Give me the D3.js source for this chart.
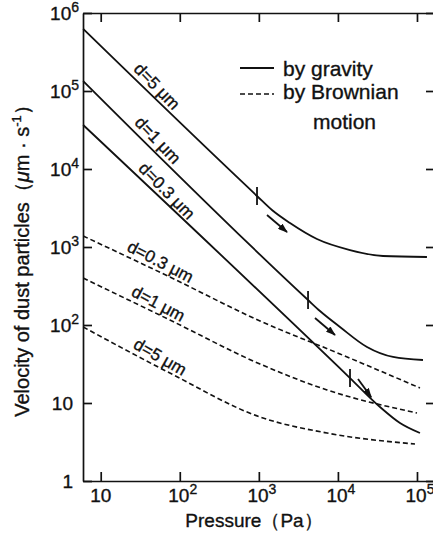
<!DOCTYPE html>
<meta charset="utf-8">
<style>
body { margin: 0; background: #fff; }
svg { font-family: "Liberation Sans", Arial, Helvetica, sans-serif; }
svg text { stroke: #111; stroke-width: 0.35px; }
.axis path, .axis line { stroke: #111; stroke-width: 1.7px; fill: none; }
.curve { fill: none; stroke: #111; stroke-width: 1.8px; }
.brownian { stroke-dasharray: 5,3; stroke-width: 1.6px; }
.mark, .arrow { stroke: #111; stroke-width: 1.8px; fill: none; }
.tick-label { font-size: 19px; fill: #111; }
.curve-label { font-size: 17px; fill: #111; }
.legend { font-size: 21px; fill: #111; }
.title { font-size: 19px; fill: #111; }
</style>
<body>
<script src="https://d3js.org/d3.v7.min.js"></script>
<script>
var width = 433,
    height = 533;

// values: pressure (Pa) against velocity (um/s)
var pressureTicks = [10, 100, 1000, 10000, 100000];
var velocityTicks = [1, 10, 100, 1000, 10000, 100000, 1000000];

var gravity5 = [[6, 624000], [948, 4510], [1466, 2980], [2477, 2030], [5430, 1267], [14220, 915], [37150, 767], [133700, 744]];
var gravity1 = [[6, 134300], [4190, 209], [5930, 151], [10620, 94.3], [23330, 52.2], [49800, 38.9], [119100, 35.6]];
var gravity03 = [[6, 36650], [14220, 20.9], [34050, 8.89], [60950, 5.54], [109100, 4.12]];
var brownian03 = [[6, 1384], [75, 412], [1035, 112.6], [10620, 42.5], [109100, 15.6]];
var brownian1 = [[6, 400], [75, 115.9], [1035, 31.6], [7280, 14.7], [100000, 7.45]];
var brownian5 = [[6, 94.3], [75, 24.2], [1035, 6.62], [7280, 4.12], [94400, 2.98]];

// regime boundary marks on the gravity curves, and the arrows next to them
var regimeMarks = [[948, 4510], [4190, 209], [14220, 20.9]];
var arrowStarts = [[1268, 2570], [5130, 123], [17960, 20.3]];
var arrowEnds = [[2270, 1557], [9180, 74.5], [26340, 11.9]];

var curveLabels = ["d=5 \u03bcm", "d=1 \u03bcm", "d=0.3 \u03bcm", "d=0.3 \u03bcm", "d=1 \u03bcm", "d=5 \u03bcm"];
var labelPressure = [42, 43, 56, 50, 47, 49];

var svg = d3.select("body").append("svg")
    .attr("width", width)
    .attr("height", height);

var x = d3.scaleLog().domain([5.97, 1.74e5]).range([83, 436]);
var y = d3.scaleLog().domain([1, 1e6]).range([481, 13]);

// frame: ticks all point inwards
svg.append("g").attr("class", "axis")
    .attr("transform", "translate(0,481)")
    .call(d3.axisBottom(x).tickValues(pressureTicks).tickSize(-9).tickSizeOuter(0).tickFormat(""));
svg.append("g").attr("class", "axis")
    .attr("transform", "translate(0,13)")
    .call(d3.axisTop(x).tickValues(pressureTicks).tickSize(-9).tickSizeOuter(0).tickFormat(""));
svg.append("g").attr("class", "axis")
    .attr("transform", "translate(83,0)")
    .call(d3.axisLeft(y).tickValues(velocityTicks).tickSize(-9).tickSizeOuter(0).tickFormat(""));
svg.append("g").attr("class", "axis")
    .attr("transform", "translate(436,0)")
    .call(d3.axisRight(y).tickValues(velocityTicks).tickSize(-10).tickSizeOuter(0).tickFormat(""));

function powerLabel(text, v) {
    var e = Math.round(Math.log10(v));
    if (e === 0) { text.text("1"); return; }
    text.append("tspan").text("10");
    if (e > 1) {
        text.append("tspan").attr("dy", -8).style("font-size", "14px").text(e);
    }
}

velocityTicks.forEach(function(v) {
    var e = Math.round(Math.log10(v));
    var t = svg.append("text").attr("class", "tick-label")
        .attr("x", e > 1 ? 79 : 73)
        .attr("y", y(v) + 7)
        .attr("text-anchor", "end");
    powerLabel(t, v);
});

pressureTicks.forEach(function(v) {
    var e = Math.round(Math.log10(v));
    var t = svg.append("text").attr("class", "tick-label")
        .attr("x", x(v) + (e > 1 ? 3 : 0))
        .attr("y", 502)
        .attr("text-anchor", "middle");
    powerLabel(t, v);
});

// curves
var line = d3.line()
    .x(function(d) { return x(d[0]); })
    .y(function(d) { return y(d[1]); })
    .curve(d3.curveMonotoneX);

var gravity = [gravity5, gravity1, gravity03];
var brownian = [brownian03, brownian1, brownian5];

gravity.forEach(function(s) {
    svg.append("path").attr("class", "curve").attr("d", line(s));
});
brownian.forEach(function(s) {
    svg.append("path").attr("class", "curve brownian").attr("d", line(s));
});

regimeMarks.forEach(function(d) {
    svg.append("line").attr("class", "mark")
        .attr("x1", x(d[0])).attr("x2", x(d[0]))
        .attr("y1", y(d[1]) - 9).attr("y2", y(d[1]) + 9);
});

svg.append("defs").append("marker")
    .attr("id", "head")
    .attr("markerUnits", "userSpaceOnUse")
    .attr("markerWidth", 10).attr("markerHeight", 7)
    .attr("refX", 9).attr("refY", 3.5)
    .attr("orient", "auto")
    .append("path").attr("d", "M0,0L10,3.5L0,7z").attr("fill", "#111");

arrowStarts.forEach(function(d, i) {
    var e = arrowEnds[i];
    svg.append("line").attr("class", "arrow")
        .attr("x1", x(d[0])).attr("y1", y(d[1]))
        .attr("x2", x(e[0])).attr("y2", y(e[1]))
        .attr("marker-end", "url(#head)");
});

// labels follow the local slope of their curve
var labelled = gravity.concat(brownian);
labelled.forEach(function(s, i) {
    var px = x(labelPressure[i]);
    var pts = s.map(function(d) { return [x(d[0]), y(d[1])]; });
    var k = 0;
    while (k < pts.length - 2 && pts[k + 1][0] < px) k++;
    var a = pts[k], b = pts[k + 1];
    var t = (px - a[0]) / (b[0] - a[0]);
    var py = a[1] + t * (b[1] - a[1]);
    var angle = Math.atan2(b[1] - a[1], b[0] - a[0]) * 180 / Math.PI;
    svg.append("text").attr("class", "curve-label")
        .attr("transform", "translate(" + px + "," + py + ") rotate(" + (angle + 2) + ")")
        .attr("y", -4)
        .attr("text-anchor", "middle")
        .text(curveLabels[i]);
});

// legend
var legend = svg.append("g");
legend.append("line").attr("class", "curve")
    .attr("x1", 240).attr("x2", 274).attr("y1", 68).attr("y2", 68);
legend.append("text").attr("class", "legend").attr("x", 283).attr("y", 76).text("by gravity");
legend.append("line").attr("class", "curve brownian")
    .attr("x1", 240).attr("x2", 274).attr("y1", 94).attr("y2", 94);
legend.append("text").attr("class", "legend").attr("x", 283).attr("y", 99).text("by Brownian");
legend.append("text").attr("class", "legend").attr("x", 313).attr("y", 129).text("motion");

// axis titles
svg.append("text").attr("class", "title")
    .attr("x", 254).attr("y", 527)
    .attr("text-anchor", "middle")
    .text("Pressure\uff08Pa\uff09");

var yt = svg.append("text").attr("class", "title")
    .attr("transform", "translate(29,256) rotate(-90)")
    .attr("text-anchor", "middle")
    .style("font-size", "20px");
yt.append("tspan").text("Velocity of dust particles\uff08");
yt.append("tspan").style("font-style", "italic").text("\u03bc");
yt.append("tspan").text("m \u00b7 s");
yt.append("tspan").attr("dy", -8).style("font-size", "13px").text("-1");
yt.append("tspan").attr("dy", 8).text("\uff09");
</script>
</body>
